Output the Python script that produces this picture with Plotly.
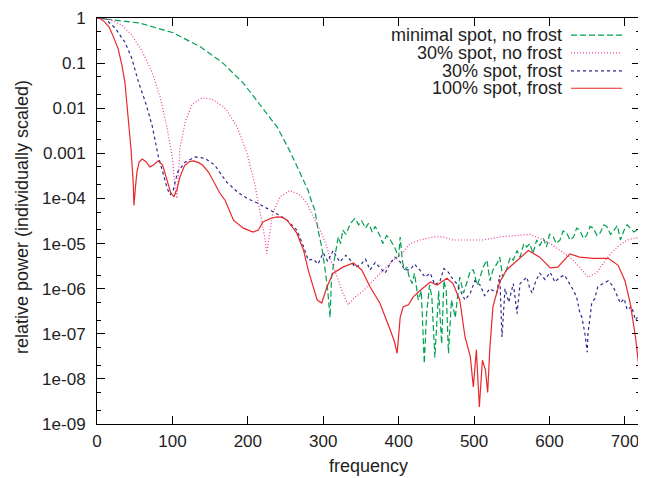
import plotly.graph_objects as go

# ---------------- data ----------------
x_ticks = [0, 100, 200, 300, 400, 500, 600, 700]
y_tick_vals = [1, 0.1, 0.01, 0.001, 1e-4, 1e-5, 1e-6, 1e-7, 1e-8, 1e-9]
y_tick_text = ["1", "0.1", "0.01", "0.001", "1e-04", "1e-05", "1e-06",
               "1e-07", "1e-08", "1e-09"]

series_names = ["minimal spot, no frost", "30% spot, no frost",
                "30% spot, frost", "100% spot, frost"]

green_f = [0, 57, 101, 137, 167, 194, 216, 239, 256, 269, 280, 285, 289, 293,
           298, 302, 306, 309, 311, 316, 320, 323, 326, 330, 336, 342, 347,
           351, 356, 360, 365, 369, 375, 379, 384, 389, 395, 400, 402, 405,
           408, 411, 414, 418, 421, 426, 430, 434, 437, 441, 444, 448, 453,
           457, 460, 463, 466, 470, 475, 481, 486, 490, 495, 499, 504, 508,
           512, 517, 521, 525, 530, 534, 538, 543, 548, 552, 557, 561, 566,
           570, 574, 578, 583, 587, 592, 596, 600, 605, 609, 614, 618, 623,
           627, 632, 636, 640, 645, 649, 654, 658, 663, 667, 672, 676, 681,
           685, 690, 694, 699, 703, 707, 712, 716, 722]
green_p = [1, 0.77, 0.47, 0.23, 0.1, 0.036, 0.012, 3.8e-3, 1.1e-3, 3.6e-4,
           1.5e-4, 8e-5, 5.5e-5, 2e-5, 8.4e-6, 3e-6, 9e-7, 2.3e-7, 1.8e-6,
           6e-6, 1.4e-5, 1e-5, 2e-5, 1.6e-5, 2.8e-5, 3.6e-5, 2.6e-5, 3.2e-5,
           2.2e-5, 2.8e-5, 1.8e-5, 2.4e-5, 1.5e-5, 1e-5, 1.5e-5, 1.2e-5, 8e-6,
           5e-6, 1.4e-5, 4e-6, 2.6e-6, 3e-6, 1.8e-6, 1.3e-6, 2.2e-6, 5.6e-7,
           9e-7, 2.2e-8, 2.8e-7, 1.2e-6, 6.5e-7, 3e-8, 9e-7, 6e-8, 1.5e-6,
           9e-7, 3.7e-8, 5.6e-7, 2.3e-7, 1.8e-6, 8e-7, 1.3e-6, 2.5e-6, 2.6e-6,
           1.2e-6, 1.8e-6, 3e-6, 4.3e-6, 1.5e-6, 2.6e-6, 3.5e-6, 5e-6, 1.8e-6,
           2.6e-6, 5e-6, 4.3e-6, 7e-6, 5e-6, 1e-5, 8.4e-6, 1e-5, 6e-6, 1.2e-5,
           9e-6, 1.3e-5, 8.4e-6, 1.6e-5, 1.4e-5, 1e-5, 1.2e-5, 1.9e-5, 1.7e-5,
           1.2e-5, 1.4e-5, 2.2e-5, 2e-5, 1.3e-5, 1.5e-5, 2.4e-5, 2.2e-5,
           1.5e-5, 1.7e-5, 2.6e-5, 2.4e-5, 1.6e-5, 1.9e-5, 2.5e-5, 1.2e-5,
           2e-5, 2.6e-5, 2.2e-5, 1.8e-5, 2e-5, 2.2e-5]

pink_f = [0, 14, 33, 46, 60, 73, 84, 93, 100, 104, 106, 110, 117, 126, 139,
          152, 167, 172, 186, 199, 210, 216, 223, 225, 229, 233, 243, 256,
          269, 278, 287, 300, 309, 318, 326, 333, 342, 353, 366, 379, 393,
          406, 415, 428, 446, 459, 472, 490, 512, 534, 557, 574, 587, 601,
          614, 627, 640, 651, 663, 676, 690, 703, 720]
pink_p = [1, 0.97, 0.7, 0.42, 0.18, 0.063, 0.017, 3.6e-3, 8e-4, 1.4e-4, 1e-4,
          1.3e-3, 5e-3, 0.012, 0.017, 0.016, 0.011, 9e-3, 3.8e-3, 1e-3,
          1.8e-4, 5.5e-5, 1.2e-5, 6e-6, 1.7e-5, 4.7e-5, 1.1e-4, 1.5e-4,
          1.2e-4, 8e-5, 3.9e-5, 1.4e-5, 5e-6, 1.8e-6, 8e-7, 4.4e-7, 6.5e-7,
          9e-7, 1.5e-6, 2.6e-6, 4.3e-6, 6.4e-6, 1e-5, 1.2e-5, 1.4e-5, 1.4e-5,
          1.2e-5, 1.2e-5, 1.2e-5, 1.4e-5, 1.5e-5, 1.6e-5, 1.3e-5, 1e-5, 7e-6,
          5e-6, 3e-6, 1.8e-6, 2.3e-6, 4.7e-6, 8.5e-6, 1.2e-5, 1.4e-5]

blue_f = [0, 11, 24, 37, 46, 55, 64, 73, 81, 88, 93, 97, 101, 107, 117, 130,
          143, 156, 172, 186, 199, 212, 225, 239, 252, 265, 274, 280, 287,
          293, 300, 306, 313, 318, 322, 330, 336, 342, 349, 356, 362, 369,
          375, 382, 389, 395, 402, 408, 415, 421, 428, 435, 442, 448, 455,
          460, 466, 472, 477, 483, 488, 495, 501, 508, 514, 521, 530, 534,
          537, 541, 546, 552, 557, 561, 565, 570, 574, 577, 582, 587, 594,
          601, 607, 614, 620, 627, 632, 636, 640, 643, 647, 650, 651, 654,
          656, 660, 664, 671, 678, 683, 687, 694, 699, 703, 709, 714, 718, 722]
blue_p = [1, 0.95, 0.6, 0.29, 0.13, 0.038, 0.014, 4.2e-3, 9e-4, 3.3e-4,
          1.7e-4, 1.2e-4, 1.5e-4, 3.9e-4, 6.4e-4, 8.3e-4, 7.8e-4, 5.5e-4,
          2.3e-4, 1.4e-4, 1e-4, 8e-5, 6.1e-5, 4.5e-5, 3.3e-5, 2e-5, 8.4e-6,
          4.3e-6, 4.5e-6, 3.5e-6, 6.2e-6, 4e-6, 7e-6, 5e-6, 3.9e-6, 5.5e-6,
          4.3e-6, 3e-6, 3.3e-6, 4.5e-6, 2.6e-6, 3.8e-6, 3e-6, 2.2e-6, 3.7e-6,
          5e-6, 3.9e-6, 2.6e-6, 2.6e-6, 3.5e-6, 2.6e-6, 1.8e-6, 2.2e-6,
          1.2e-6, 1.5e-6, 2.8e-6, 2.3e-6, 1.6e-6, 1.3e-6, 8e-7, 5.6e-7, 8e-7,
          1.5e-6, 1.2e-6, 7e-7, 1e-6, 8e-7, 2e-6, 8.5e-8, 1e-6, 5e-7, 1.3e-6,
          2.8e-7, 1.3e-6, 1.5e-6, 1.8e-6, 1e-6, 8e-7, 1.5e-6, 2.2e-6, 1.6e-6,
          2.3e-6, 1.4e-6, 1.8e-6, 2e-6, 1.3e-6, 9e-7, 6.5e-7, 3e-7, 2.3e-7,
          1e-7, 3.9e-8, 1e-7, 2.5e-7, 4.8e-7, 6e-7, 1.1e-6, 1.3e-6, 1.5e-6,
          1.2e-6, 9e-7, 4.8e-7, 6e-7, 3.4e-7, 4e-7, 2e-7, 2.5e-7, 1.2e-7]

red_f = [0, 5, 10, 16, 20, 28, 33, 37, 41, 45, 48, 49, 51, 53, 56, 60, 65, 70,
         75, 81, 87, 93, 98, 102, 106, 110, 116, 122, 128, 134, 140, 148, 156,
         163, 170, 181, 194, 207, 214, 220, 230, 239, 246, 252, 260, 265, 274,
         280, 286, 292, 298, 305, 313, 326, 340, 351, 362, 375, 389, 394, 398,
         402, 406, 413, 419, 428, 442, 451, 464, 472, 481, 488, 495, 499, 503,
         507, 511, 515, 518, 521, 525, 534, 543, 557, 572, 587, 601, 611, 627,
         640, 658, 678, 691, 700, 707, 714, 718, 721]
red_p = [1, 0.95, 0.82, 0.63, 0.45, 0.21, 0.09, 0.038, 7e-3, 1.3e-3, 2.3e-4,
         7e-5, 1.8e-4, 3.9e-4, 6.5e-4, 7.5e-4, 6.5e-4, 5e-4, 5.5e-4, 6.8e-4,
         5.5e-4, 2.5e-4, 1.3e-4, 1.1e-4, 1.6e-4, 3e-4, 5.3e-4, 6.5e-4, 6.8e-4,
         6.3e-4, 5.5e-4, 3.8e-4, 2.2e-4, 1.3e-4, 9e-5, 3.3e-5, 2.2e-5, 1.8e-5,
         2e-5, 3e-5, 3.6e-5, 3.9e-5, 3.8e-5, 3.3e-5, 2.2e-5, 1.7e-5, 7e-6,
         2.6e-6, 1.2e-6, 5.6e-7, 4.8e-7, 1.1e-6, 2.2e-6, 3e-6, 3.7e-6, 2.6e-6,
         1.1e-6, 4.8e-7, 1.2e-7, 7e-8, 3.7e-8, 2.3e-7, 4e-7, 4.4e-7, 6.5e-7,
         9e-7, 1.4e-6, 1.2e-6, 1.7e-6, 1.3e-6, 5.6e-7, 8.5e-8, 3.1e-8, 6.6e-9,
         4.4e-8, 2.4e-9, 2.6e-8, 1.6e-8, 5e-9, 5e-8, 4e-7, 1.4e-6, 2.6e-6,
         4.3e-6, 7e-6, 5e-6, 2.9e-6, 3e-6, 5.9e-6, 5e-6, 4.7e-6, 4.7e-6,
         3.3e-6, 1.5e-6, 4.8e-7, 8.5e-8, 2.2e-8, 5e-9]

x_title = "frequency"
y_title = "relative power (individually scaled)"

# ---------------- styles ----------------
FONT = "Liberation Sans, Arial, Helvetica, sans-serif"
TXT = "#1e1e1e"
styles = [
    dict(color="#00a050", width=1.2, dash="6px,3px"),
    dict(color="#f0389b", width=1.2, dash="1px,2px"),
    dict(color="#2b2b8c", width=1.2, dash="3px,3px"),
    dict(color="#e8282b", width=1.2, dash="solid"),
]
data = [(green_f, green_p), (pink_f, pink_p), (blue_f, blue_p), (red_f, red_p)]

fig = go.Figure()
for name, (fx, py), st in zip(series_names, data, styles):
    fig.add_trace(go.Scatter(x=fx, y=py, mode="lines", name=name, line=st,
                             showlegend=False))

# gnuplot-style key: text right-aligned, sample to the right
key_rows_y = [0.958, 0.914, 0.870, 0.827]
for name, st, ky in zip(series_names, styles, key_rows_y):
    fig.add_annotation(xref="paper", yref="paper", x=0.860, y=ky, text=name,
                       showarrow=False, xanchor="right", yanchor="middle",
                       font=dict(family=FONT, size=18, color=TXT))
    fig.add_shape(type="line", xref="paper", yref="paper", x0=0.873, x1=0.967,
                  y0=ky, y1=ky, line=st)

# axis titles as annotations (fixed positions)
fig.add_annotation(xref="paper", yref="paper", x=0.5, y=-0.103, text=x_title,
                   showarrow=False, xanchor="center", yanchor="middle",
                   font=dict(family=FONT, size=18, color=TXT))
fig.add_annotation(xref="paper", yref="paper", x=-0.138, y=0.51, text=y_title,
                   showarrow=False, xanchor="center", yanchor="middle",
                   textangle=-90, font=dict(family=FONT, size=18, color=TXT))

# the page body has an 8px margin, so the figure is 8px smaller than the window
fig.update_layout(
    width=638, height=470,
    margin=dict(l=89, r=6, t=10, b=54, autoexpand=False),
    plot_bgcolor="white", paper_bgcolor="white",
    showlegend=False,
    font=dict(family=FONT, size=17, color=TXT),
)
fig.update_xaxes(
    range=[0, 720], tickvals=x_ticks, ticktext=[str(v) for v in x_ticks],
    ticks="inside", ticklen=8, tickcolor="black", tickwidth=1,
    mirror="allticks", showline=True, linecolor="black", linewidth=1,
    showgrid=False, zeroline=False, ticklabelstandoff=2, automargin=False,
)
fig.update_yaxes(
    type="log", range=[-9, 0], tickvals=y_tick_vals, ticktext=y_tick_text,
    ticks="inside", ticklen=8, tickcolor="black", tickwidth=1,
    mirror="allticks", showline=True, linecolor="black", linewidth=1,
    showgrid=False, zeroline=False, ticklabelstandoff=7, automargin=False,
    minor=dict(ticks="inside", ticklen=4, dtick="D2", tickcolor="black",
               showgrid=False),
)

fig.write_html("out.html")
